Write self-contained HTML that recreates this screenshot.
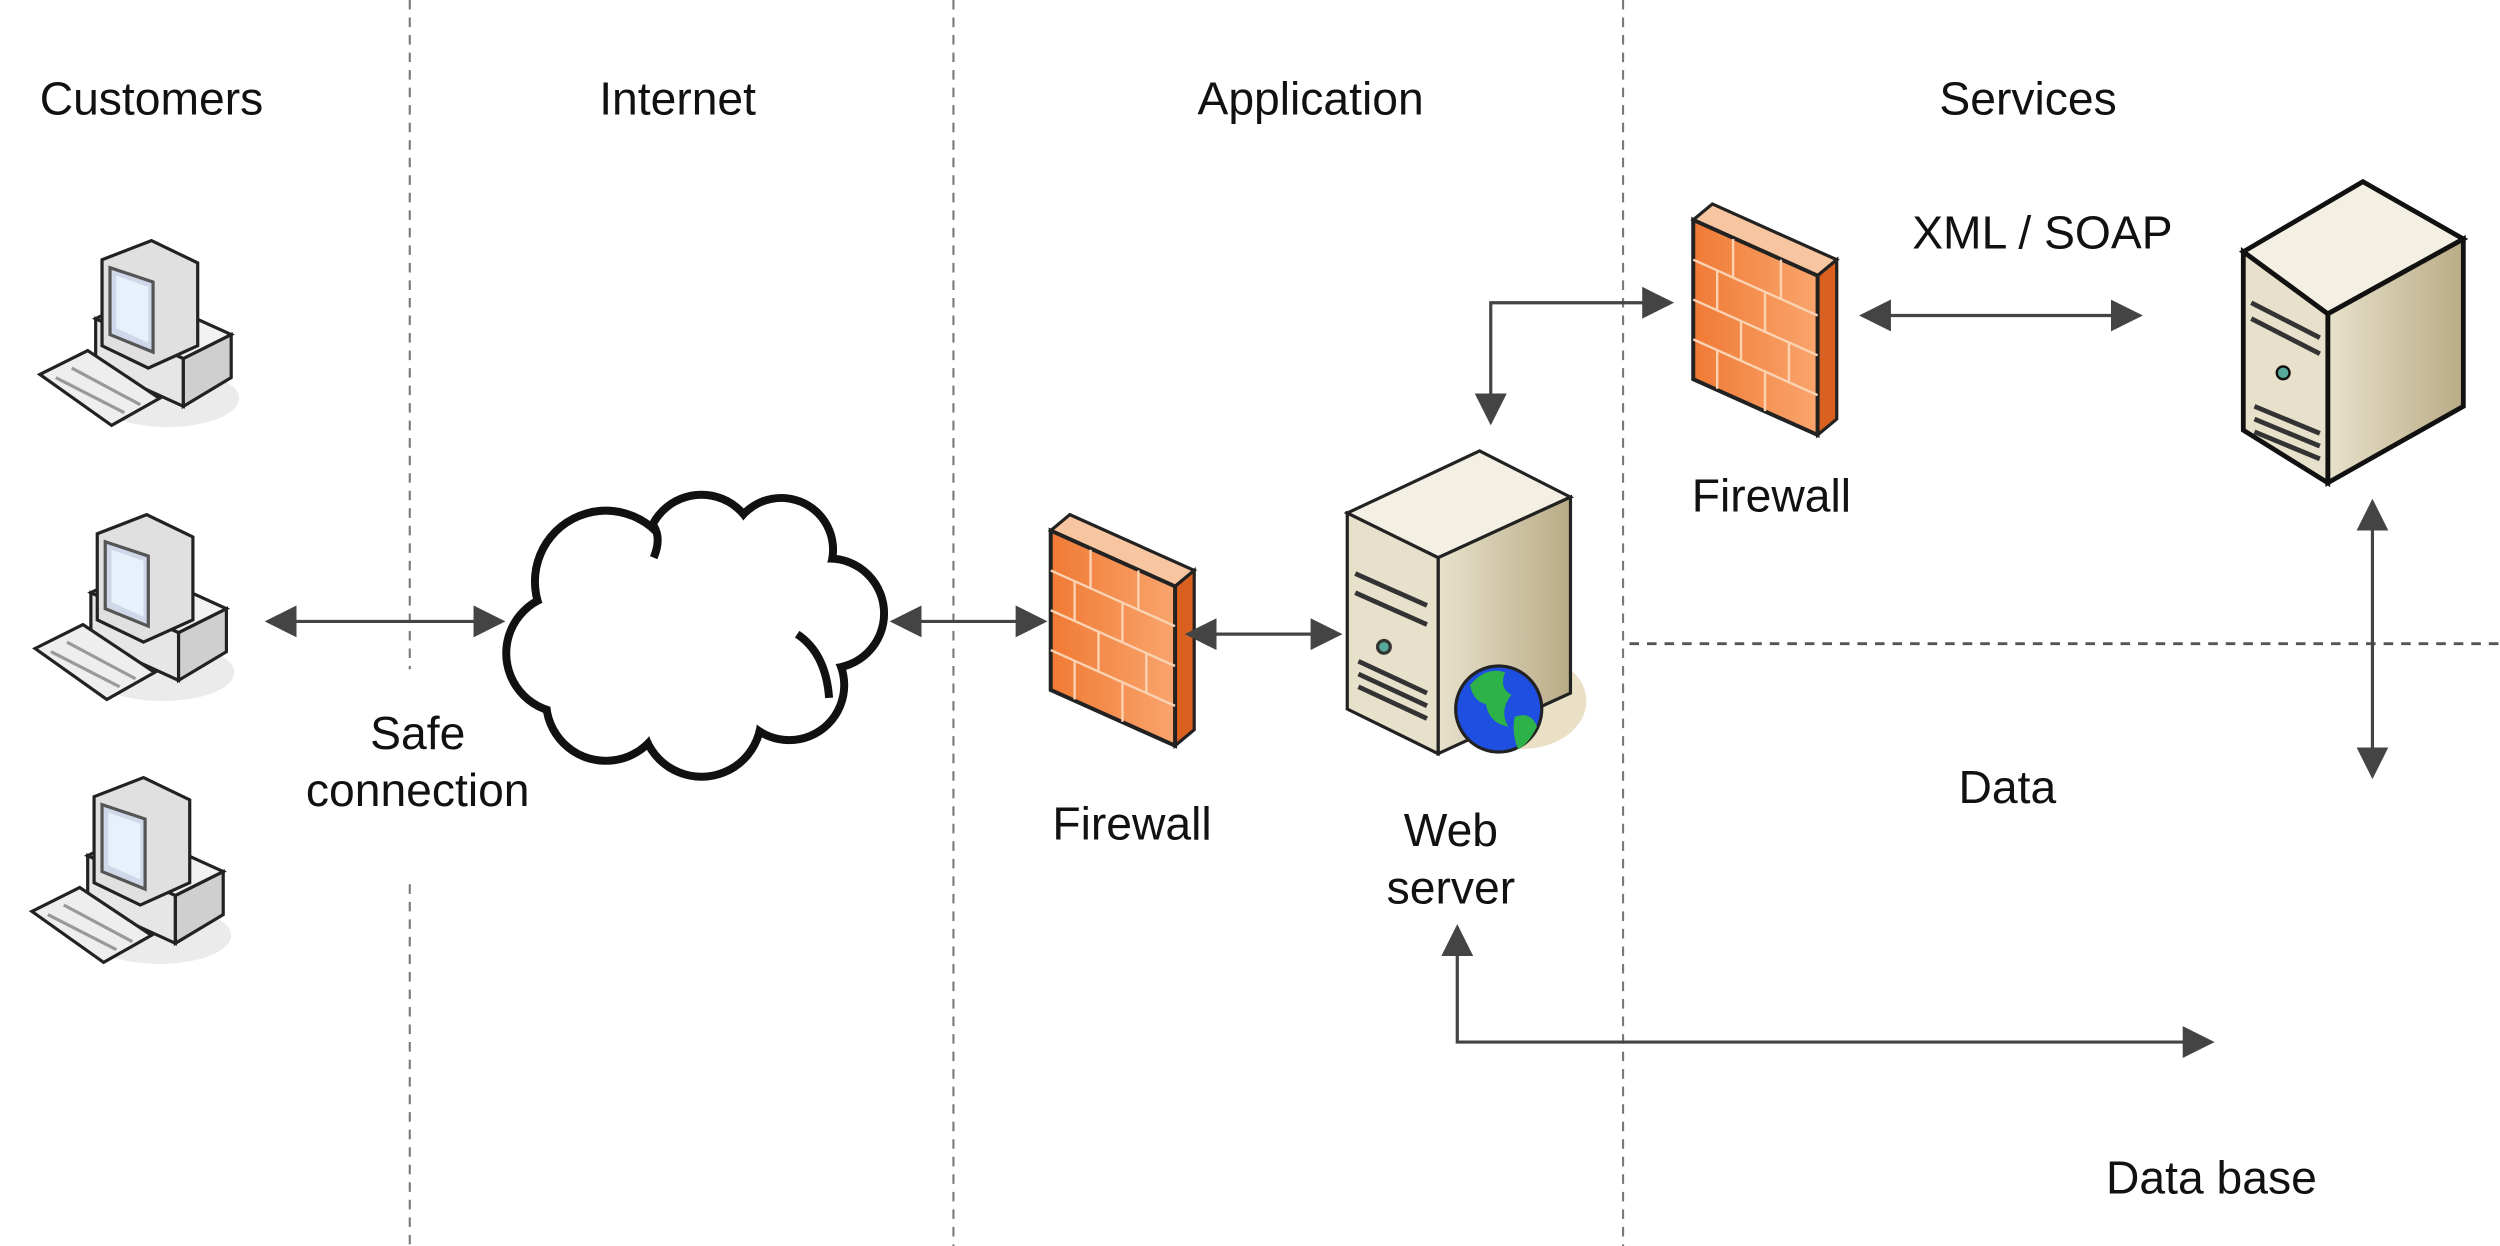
<!DOCTYPE html>
<html><head><meta charset="utf-8"><style>
html,body{margin:0;padding:0;background:#fff;}
svg{display:block}
text{font-family:"Liberation Sans",Arial,sans-serif;font-size:29px;fill:#111;text-anchor:middle}
</style></head><body>
<svg width="2500" height="1246" viewBox="0 0 1568 782" preserveAspectRatio="none" xmlns="http://www.w3.org/2000/svg">
<defs>
<marker id="b" viewBox="0 0 10 10" refX="9" refY="5" markerWidth="20" markerHeight="20" orient="auto-start-reverse" markerUnits="userSpaceOnUse">
<path d="M0,0 L10,5 L0,10 z" fill="#444"/></marker>
<linearGradient id="tan" x1="0" x2="1"><stop offset="0" stop-color="#e8e2cc"/><stop offset="1" stop-color="#b9ab86"/></linearGradient>
<linearGradient id="org" x1="0" x2="1"><stop offset="0" stop-color="#f07a35"/><stop offset="1" stop-color="#f9a56d"/></linearGradient>
<g id="pc">
<ellipse cx="85" cy="95" rx="45" ry="18" fill="#ddd" opacity="0.6"/>
<polygon points="40,45 95,70 95,100 40,75" fill="#e6e6e6" stroke="#222" stroke-width="2"/>
<polygon points="95,70 125,55 125,82 95,100" fill="#cfcfcf" stroke="#222" stroke-width="2"/>
<polygon points="40,45 70,30 125,55 95,70" fill="#f2f2f2" stroke="#222" stroke-width="2"/>
<polygon points="44,8 75,-4 104,10 104,62 73,76 44,62" fill="#e0e0e0" stroke="#222" stroke-width="2"/>
<polygon points="49,13 76,22 76,66 49,55" fill="#cfd8e8" stroke="#555" stroke-width="2"/>
<polygon points="53,18 73,25 73,60 53,51" fill="#e8f0fb"/>
<polygon points="5,80 35,65 80,95 50,112" fill="#eee" stroke="#222" stroke-width="2"/>
<line x1="15" y1="82" x2="58" y2="104" stroke="#999" stroke-width="2"/>
<line x1="25" y1="76" x2="68" y2="99" stroke="#999" stroke-width="2"/>
</g>
<g id="fw">
<polygon points="0,10 12,0 90,35 78,45" fill="#f7c59f" stroke="#222" stroke-width="2"/>
<polygon points="78,45 90,35 90,135 78,145" fill="#d9601f" stroke="#222" stroke-width="2"/>
<polygon points="0,10 78,45 78,145 0,110" fill="url(#org)" stroke="#222" stroke-width="2.5"/>
<g stroke="#fbd3b3" stroke-width="1.5">
<line x1="0" y1="35" x2="78" y2="70"/><line x1="0" y1="60" x2="78" y2="95"/><line x1="0" y1="85" x2="78" y2="120"/>
<line x1="25" y1="22" x2="25" y2="46"/><line x1="55" y1="35" x2="55" y2="60"/>
<line x1="15" y1="42" x2="15" y2="67"/><line x1="45" y1="56" x2="45" y2="81"/>
<line x1="30" y1="74" x2="30" y2="98"/><line x1="60" y1="87" x2="60" y2="112"/>
<line x1="15" y1="92" x2="15" y2="116"/><line x1="45" y1="106" x2="45" y2="130"/>
</g>
</g>
</defs>

<g stroke="#777" stroke-width="1.3" stroke-dasharray="6,5" fill="none">
<line x1="257" y1="0" x2="257" y2="420"/><line x1="257" y1="555" x2="257" y2="782"/>
<line x1="598" y1="0" x2="598" y2="782"/>
<line x1="1018" y1="0" x2="1018" y2="782"/>
<line x1="1022" y1="404" x2="1568" y2="404" stroke-width="1.8" stroke="#555"/>
</g>

<text x="95" y="72">Customers</text>
<text x="425" y="72">Internet</text>
<text x="822" y="72">Application</text>
<text x="1272" y="72">Services</text>
<text x="1281" y="156">XML / SOAP</text>
<text x="1111" y="321">Firewall</text>
<text x="710" y="527">Firewall</text>
<text x="910" y="531">Web</text>
<text x="910" y="567">server</text>
<text x="1259" y="504">Data</text>
<text x="1387" y="749">Data base</text>
<text x="262" y="470">Safe</text>
<text x="262" y="506">connection</text>

<use href="#pc" x="20" y="155"/>
<use href="#pc" x="17" y="327"/>
<use href="#pc" x="15" y="492"/>

<!-- cloud -->
<g>
<g fill="none" stroke="#111" stroke-width="10">
<circle cx="380" cy="365" r="42"/><circle cx="440" cy="345" r="32"/><circle cx="490" cy="345" r="30"/>
<circle cx="520" cy="385" r="32"/><circle cx="355" cy="410" r="35"/><circle cx="380" cy="440" r="35"/>
<circle cx="440" cy="450" r="35"/><circle cx="495" cy="430" r="32"/>
</g>
<g fill="#fff">
<circle cx="380" cy="365" r="42"/><circle cx="440" cy="345" r="32"/><circle cx="490" cy="345" r="30"/>
<circle cx="520" cy="385" r="32"/><circle cx="355" cy="410" r="35"/><circle cx="380" cy="440" r="35"/>
<circle cx="440" cy="450" r="35"/><circle cx="495" cy="430" r="32"/><circle cx="440" cy="398" r="60"/>
</g>
<g fill="none" stroke="#111" stroke-width="5">
<path d="M500,398 q18,12 20,40"/><path d="M410,350 q5,-12 0,-20"/>
</g>
</g>

<use href="#fw" x="659" y="323"/>
<use href="#fw" x="1062" y="128"/>

<!-- web server -->
<g stroke="#222" stroke-width="2">
<ellipse cx="955" cy="440" rx="40" ry="30" fill="#e9e0c6" stroke="none"/>
<polygon points="845,322 928,283 985,312 902,350" fill="#f3efe3"/>
<polygon points="902,350 985,312 985,435 902,473" fill="url(#tan)"/>
<polygon points="845,322 902,350 902,473 845,445" fill="#e7e0ca"/>
<g stroke="#333" stroke-width="3"><line x1="850" y1="360" x2="895" y2="380"/><line x1="850" y1="372" x2="895" y2="392"/>
<line x1="852" y1="415" x2="895" y2="435"/><line x1="852" y1="423" x2="895" y2="443"/><line x1="852" y1="431" x2="895" y2="451"/></g>
<circle cx="868" cy="406" r="4" fill="#5a9" stroke="#333"/>
</g>
<circle cx="940" cy="445" r="27" fill="#1f4fe0" stroke="#222" stroke-width="2"/>
<path d="M922,430 q10,-12 22,-8 q-4,10 4,14 q-8,10 -2,20 q-12,-2 -14,-14 q-8,-2 -10,-12z M950,450 q10,-4 14,6 q-6,12 -12,14 q-4,-10 -2,-20z" fill="#2db24a"/>

<!-- services server -->
<g stroke="#111" stroke-width="3">
<polygon points="1407,158 1482,114 1545,150 1460,197" fill="#f3efe3"/>
<polygon points="1460,197 1545,150 1545,255 1460,303" fill="url(#tan)"/>
<polygon points="1407,158 1460,197 1460,303 1407,270" fill="#e7e0ca"/>
<g stroke="#333" stroke-width="3"><line x1="1412" y1="190" x2="1455" y2="212"/><line x1="1412" y1="200" x2="1455" y2="222"/>
<line x1="1414" y1="255" x2="1455" y2="272"/><line x1="1414" y1="263" x2="1455" y2="280"/><line x1="1414" y1="271" x2="1455" y2="288"/></g>
<circle cx="1432" cy="234" r="4" fill="#5a9" stroke-width="1.5"/>
</g>

<!-- connectors -->
<g stroke="#444" stroke-width="2" fill="none" marker-start="url(#b)" marker-end="url(#b)">
<line x1="168" y1="390" x2="315" y2="390"/>
<line x1="560" y1="390" x2="655" y2="390"/>
<line x1="745" y1="398" x2="840" y2="398"/>
<line x1="1168" y1="198" x2="1342" y2="198"/>
<line x1="1488" y1="315" x2="1488" y2="487"/>
<polyline points="935,265 935,190 1048,190"/>
<polyline points="914,582 914,654 1387,654"/>
</g>
</svg>
</body></html>
